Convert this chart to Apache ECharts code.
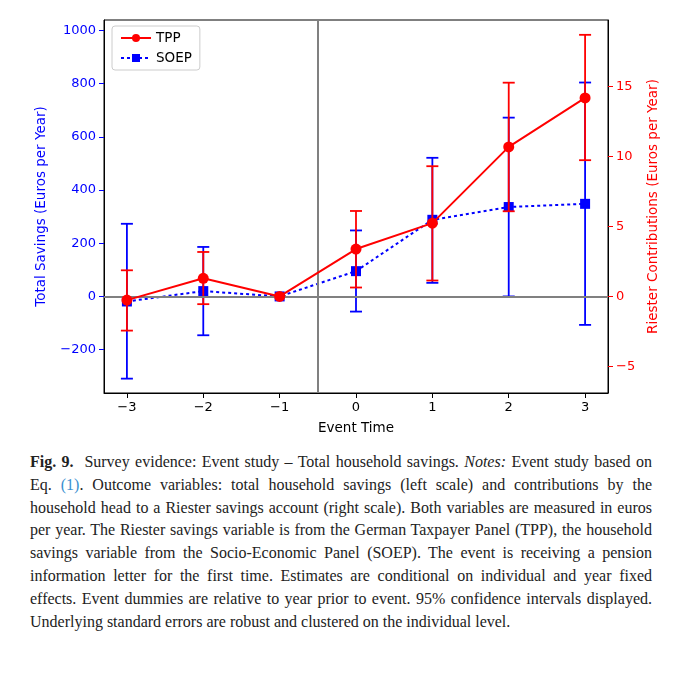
<!DOCTYPE html>
<html><head><meta charset="utf-8">
<script src="https://cdn.jsdelivr.net/npm/echarts@6/dist/echarts.min.js"></script>
<style>
body{margin:0;background:#fff;width:680px;height:676px;overflow:hidden}
#c{width:680px;height:440px}
#cap{position:absolute;left:30px;top:451px;width:622px;font-family:"Liberation Serif","DejaVu Serif",serif;font-size:16px;line-height:22.8px;text-align:justify;color:#222}
#cap a{color:#3a8fd0;text-decoration:none}
</style></head><body>
<div id="c"></div>
<div id="cap"><b>Fig. 9.</b>&nbsp; Survey evidence: Event study – Total household savings. <i>Notes:</i> Event study based on Eq. <a>(1)</a>. Outcome variables: total household savings (left scale) and contributions by the household head to a Riester savings account (right scale). Both variables are measured in euros per year. The Riester savings variable is from the German Taxpayer Panel (TPP), the household savings variable from the Socio-Economic Panel (SOEP). The event is re­ceiving a pension information letter for the first time. Estimates are conditional on in­dividual and year fixed effects. Event dummies are relative to year prior to event. 95% confidence intervals displayed. Underlying standard errors are robust and clustered on the individual level.</div>
<script>
const eventTime = [-3,-2,-1,0,1,2,3];
const soep = [-19,20,0,95,288,336,348];
const soepLo = [-309,-146,0,-57,51,0,-107];
const soepHi = [273,186,0,248,521,672,804];
const tpp = [-0.26,1.30,0,3.39,5.24,10.69,14.19];
const tppLo = [-2.44,-0.55,0,0.64,1.14,6.09,9.74];
const tppHi = [1.87,3.18,0,6.11,9.31,15.28,18.7];
const leftTicks = [-200,0,200,400,600,800,1000];
const rightTicks = [-5,0,5,10,15];

const minus = v => String(v).replace('-', '\u2212');
function errSeries(name, yIdx, lo, hi, color){
  return {type:'custom', name:name+'err', yAxisIndex:yIdx, z:yIdx?4:2, silent:true,
    data: eventTime.map((x,i)=>[x,lo[i],hi[i]]),
    renderItem:(p,api)=>{
      const a=api.coord([api.value(0),api.value(1)]), b=api.coord([api.value(0),api.value(2)]);
      const st={stroke:color,lineWidth:1.8};
      return {type:'group',children:[
        {type:'line',shape:{x1:a[0],y1:a[1],x2:b[0],y2:b[1]},style:st},
        {type:'line',shape:{x1:a[0]-6,y1:a[1],x2:a[0]+6,y2:a[1]},style:st},
        {type:'line',shape:{x1:b[0]-6,y1:b[1],x2:b[0]+6,y2:b[1]},style:st}]};
    }};
}
const chart = echarts.init(document.getElementById('c'));
const font = 'DejaVu Sans';
chart.setOption({
  animation:false,
  textStyle:{fontFamily:font},
  grid:{left:104,right:72,top:20,height:375,show:true,borderColor:'#000',borderWidth:1,backgroundColor:'transparent'},
  legend:{left:112,top:26,orient:'vertical',itemGap:6,itemWidth:30,itemHeight:10,
    backgroundColor:'#fff',borderColor:'#ccc',borderWidth:1,borderRadius:3,padding:[5,8],
    textStyle:{fontSize:13.5,color:'#000'},data:['TPP','SOEP']},
  xAxis:{type:'value',min:-3.3,max:3.3,name:'Event Time',nameLocation:'middle',nameGap:28,
    nameTextStyle:{fontSize:13.5,color:'#000'},
    axisLine:{onZero:false,lineStyle:{color:'#000'}},splitLine:{show:false},
    axisTick:{customValues:eventTime,length:5,lineStyle:{color:'#000'}},
    axisLabel:{customValues:eventTime,formatter:minus,fontSize:13,color:'#000',margin:8}},
  yAxis:[
    {type:'value',min:-363,max:1039,position:'left',name:'Total Savings (Euros per Year)',
     nameLocation:'middle',nameGap:56,nameTextStyle:{fontSize:13.5,color:'#0000ff'},
     axisLine:{show:true,onZero:false,lineStyle:{color:'#000'}},splitLine:{show:false},
     axisTick:{customValues:leftTicks,length:5,lineStyle:{color:'#0000ff'}},
     axisLabel:{customValues:leftTicks,formatter:minus,fontSize:13,color:'#0000ff'}},
    {type:'value',min:-6.9,max:19.76,position:'right',name:'Riester Contributions (Euros per Year)',
     nameLocation:'middle',nameGap:34,nameRotate:90,nameTextStyle:{fontSize:13.5,color:'#ff0000'},
     axisLine:{show:true,onZero:false,lineStyle:{color:'#000'}},splitLine:{show:false},
     axisTick:{customValues:rightTicks,length:5,lineStyle:{color:'#ff0000'}},
     axisLabel:{customValues:rightTicks,formatter:minus,fontSize:13,color:'#ff0000'}}
  ],
  series:[
    errSeries('SOEP',0,soepLo,soepHi,'#0000ff'),
    {type:'line',name:'SOEP',yAxisIndex:0,z:3,data:eventTime.map((x,i)=>[x,soep[i]]),
     symbol:'rect',symbolSize:10,itemStyle:{color:'#0000ff'},
     lineStyle:{color:'#0000ff',width:2,type:[3,3]},
     markLine:{silent:true,symbol:'none',label:{show:false},lineStyle:{color:'#808080',width:2,type:'solid'},
       data:[{xAxis:-0.5},{yAxis:0}]}},
    errSeries('TPP',1,tppLo,tppHi,'#ff0000'),
    {type:'line',name:'TPP',yAxisIndex:1,z:5,data:eventTime.map((x,i)=>[x,tpp[i]]),
     symbol:'circle',symbolSize:11,itemStyle:{color:'#ff0000'},lineStyle:{color:'#ff0000',width:2}}
  ]
});
</script></body></html>
